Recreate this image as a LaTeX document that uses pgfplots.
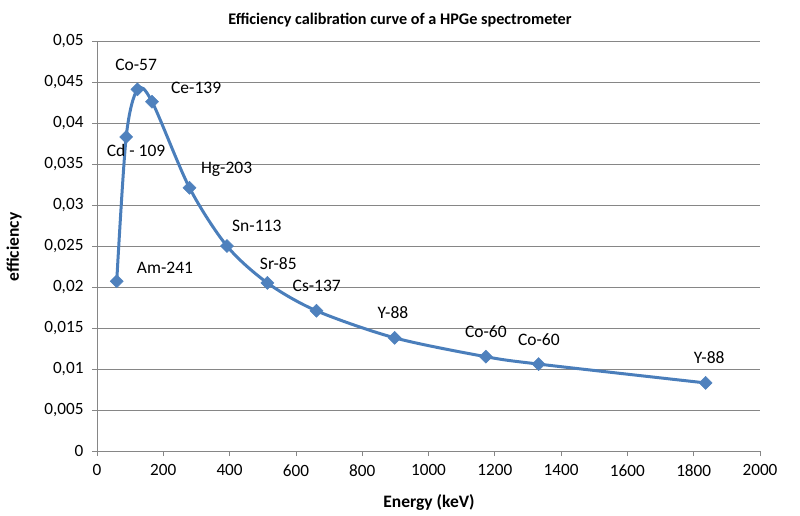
\documentclass[border=0pt]{standalone}
\usepackage{pgfplots}
\pgfplotsset{compat=1.18}
\usepackage{fontspec}
\setmainfont{Carlito}
\definecolor{serblue}{HTML}{4A7EBB}
\definecolor{mkblue}{HTML}{4F81BD}
\definecolor{gridgray}{HTML}{868686}
\begin{document}
\begin{tikzpicture}
\useasboundingbox (0,0) rectangle (800pt,515pt);
\begin{axis}[
  at={(97pt,64pt)}, anchor=south west,
  scale only axis, width=663pt, height=410pt,
  xmin=0, xmax=2000, ymin=0, ymax=0.05,
  xtick={0,200,...,2000},
  ytick={0,0.005,0.01,0.015,0.02,0.025,0.03,0.035,0.04,0.045,0.05},
  scaled y ticks=false,
  axis x line*=bottom, axis y line*=left,
  axis line style={gridgray, line width=0.8pt, -},
  tick style={gridgray, line width=0.8pt},
  tick align=outside, major tick length=5pt,
  ymajorgrids, grid style={gridgray, line width=0.8pt},
  /pgf/number format/assume math mode=true,
  /pgf/number format/use comma,
  /pgf/number format/1000 sep={},
  yticklabel style={/pgf/number format/fixed, /pgf/number format/precision=3, font=\fontsize{17.2}{19}\selectfont, xshift=-5pt},
  xticklabel style={font=\fontsize{17.2}{19}\selectfont, yshift=-5pt},
  clip=false,
]
\addplot[serblue, line width=3pt, smooth, mark=square*, mark size=4.6pt,
  mark options={rotate=45, fill=mkblue, draw=mkblue, line width=0.5pt}]
  coordinates {
  (59.5,0.0207) (88,0.0383) (122,0.0441) (166,0.0426) (279,0.0321)
  (392,0.0250) (514,0.0205) (662,0.0171) (898,0.0138) (1173,0.0115)
  (1332,0.0106) (1836,0.0083)
  };
\begin{scope}[every node/.style={font=\fontsize{17.5}{19}\selectfont, inner sep=0pt}]
\node at (axis cs:118,0.0471) {Co-57};
\node at (axis cs:299,0.0443) {Ce-139};
\node at (axis cs:118,0.0366) {Cd - 109};
\node at (axis cs:391,0.0344) {Hg-203};
\node at (axis cs:482,0.0275) {Sn-113};
\node at (axis cs:205,0.0224) {Am-241};
\node at (axis cs:547,0.0229) {Sr-85};
\node at (axis cs:663,0.0201) {Cs-137};
\node at (axis cs:893,0.01687) {Y-88};
\node at (axis cs:1173,0.01455) {Co-60};
\node at (axis cs:1333,0.01362) {Co-60};
\node at (axis cs:1847,0.01143) {Y-88};
\end{scope}
\end{axis}
\node[font=\fontsize{16.2}{18}\selectfont\bfseries] at (400pt,495pt) {Efficiency calibration curve of a HPGe spectrometer};
\node[font=\fontsize{17.5}{19}\selectfont\bfseries] at (429pt,13pt) {Energy (keV)};
\node[font=\fontsize{17.5}{19}\selectfont\bfseries, rotate=90] at (14pt,268pt) {efficiency};
\end{tikzpicture}
\end{document}
